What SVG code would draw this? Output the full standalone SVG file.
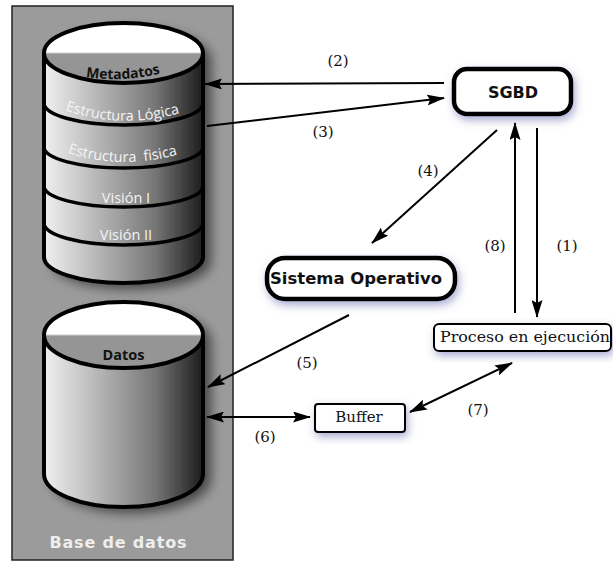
<svg xmlns="http://www.w3.org/2000/svg" width="613" height="564" viewBox="0 0 613 564">
<defs>
<style>
.lbl{font-family:"DejaVu Serif","Liberation Serif",serif;font-size:15px;fill:#111;text-anchor:middle}
.ttl{font-family:"Open Sans","DejaVu Sans",sans-serif;font-weight:bold;fill:#111;text-anchor:middle}
.ttl2{font-family:"DejaVu Sans","Open Sans",sans-serif;font-weight:bold;fill:#111;text-anchor:middle}
.band{font-family:"Open Sans","DejaVu Sans",sans-serif;font-size:14.5px;fill:#f4f4f4}
.conn{stroke:#000;stroke-width:2;fill:none}
.edge{fill:none;stroke:#000;stroke-width:4}
.bline{fill:none;stroke:#000;stroke-width:3.5}
</style>
<linearGradient id="cyl" x1="0" y1="0" x2="1" y2="0">
<stop offset="0" stop-color="#f0f0f0"/>
<stop offset="0.35" stop-color="#b4b4b4"/>
<stop offset="0.7" stop-color="#767676"/>
<stop offset="1" stop-color="#1c1c1c"/>
</linearGradient>
<filter id="cshadow" x="-20%" y="-20%" width="150%" height="140%">
<feGaussianBlur in="SourceAlpha" stdDeviation="6"/>
<feOffset dx="8" dy="6" result="b"/>
<feComponentTransfer><feFuncA type="linear" slope="0.55"/></feComponentTransfer>
<feMerge><feMergeNode/><feMergeNode in="SourceGraphic"/></feMerge>
</filter>
<filter id="nshadow" x="-20%" y="-30%" width="140%" height="170%">
<feDropShadow dx="2" dy="4" stdDeviation="4" flood-color="#5a5aa8" flood-opacity="0.5"/>
</filter>
<marker id="ah" viewBox="0 0 18 11" refX="17" refY="5.5" markerWidth="18" markerHeight="11" markerUnits="userSpaceOnUse" orient="auto-start-reverse">
<path d="M0,0 L18,5.5 L0,11 L3,5.5 Z" fill="#000"/>
</marker>
<path id="p-meta" d="M80,76 Q123,84 166,72"/>
<path id="p-log" d="M62,109 Q122,131 183,112"/>
<path id="p-fis" d="M62,151 Q122,172 183,153"/>
</defs>

<rect x="0" y="0" width="613" height="564" fill="#fff"/>

<g id="base-de-datos">
<rect x="12" y="6" width="221" height="554" fill="#9b9b9b" stroke="#222" stroke-width="1.5"/>
<text class="ttl2" x="118" y="548" font-size="16" style="fill:#eeeeee" textLength="137" lengthAdjust="spacing">Base de datos</text>
</g>

<g id="cyl-metadatos">
<g filter="url(#cshadow)">
<path d="M44,53 V257 A79.5,26 0 0 0 203,257 V53 Z" fill="url(#cyl)"/>
<ellipse cx="123.5" cy="53" rx="79.5" ry="30" fill="#959595"/>
</g>
<path d="M44,53 A79.5,30 0 0 1 203,53 Z" fill="#fff"/>
<line x1="46" y1="53" x2="201" y2="53" stroke="#cfcfcf" stroke-width="1"/>
<path class="bline" d="M44,103 A79.5,22 0 0 0 203,103"/>
<path class="bline" d="M44,147 A79.5,21 0 0 0 203,147"/>
<path class="bline" d="M44,186 A79.5,21 0 0 0 203,186"/>
<path class="bline" d="M44,223 A79.5,22 0 0 0 203,223"/>
<ellipse class="edge" cx="123.5" cy="53" rx="79.5" ry="30"/>
<path class="edge" d="M44,53 V257 A79.5,26 0 0 0 203,257 V53"/>
<text class="ttl" font-size="14"><textPath href="#p-meta" startOffset="50%">Metadatos</textPath></text>
<text class="band" text-anchor="middle"><textPath href="#p-log" startOffset="50%">Estructura Lógica</textPath></text>
<text class="band" text-anchor="middle" xml:space="preserve"><textPath href="#p-fis" startOffset="50%">Estructura  fisica</textPath></text>
<text class="band" x="126" y="203" text-anchor="middle">Visión I</text>
<text class="band" x="126" y="240" text-anchor="middle">Visión II</text>
</g>

<g id="cyl-datos">
<g filter="url(#cshadow)">
<path d="M44,335 V474 A79.5,33 0 0 0 203,474 V335 Z" fill="url(#cyl)"/>
<ellipse cx="123.5" cy="335" rx="79.5" ry="33" fill="#959595"/>
</g>
<path d="M44,335 A79.5,33 0 0 1 203,335 Z" fill="#fff"/>
<line x1="46" y1="335" x2="201" y2="335" stroke="#cfcfcf" stroke-width="1"/>
<ellipse class="edge" cx="123.5" cy="335" rx="79.5" ry="33"/>
<path class="edge" d="M44,335 V474 A79.5,33 0 0 0 203,474 V335"/>
<text class="ttl" x="123.5" y="360" font-size="14.5">Datos</text>
</g>

<g id="sgbd">
<rect x="454" y="69" width="117" height="45" rx="13" fill="#fff" stroke="#000" stroke-width="4.5" filter="url(#nshadow)"/>
<text class="ttl2" x="513" y="98" font-size="16">SGBD</text>
</g>

<g id="sistema-operativo">
<rect x="267" y="258" width="188" height="41" rx="18" fill="#fff" stroke="#000" stroke-width="4.5" filter="url(#nshadow)"/>
<text class="ttl2" x="356" y="284" font-size="16" textLength="172" lengthAdjust="spacingAndGlyphs">Sistema Operativo</text>
</g>

<g id="proceso">
<rect x="434" y="324" width="177" height="27" rx="5" fill="#fff" stroke="#000" stroke-width="2" filter="url(#nshadow)"/>
<text class="lbl" x="440" y="342" style="text-anchor:start" textLength="170" lengthAdjust="spacingAndGlyphs">Proceso en ejecución</text>
</g>

<g id="buffer">
<rect x="315" y="404" width="90" height="28" rx="3" fill="#fff" stroke="#000" stroke-width="2" filter="url(#nshadow)"/>
<text class="lbl" x="359" y="422">Buffer</text>
</g>

<g id="connectors">
<path class="conn" d="M444,83 L205,84" marker-end="url(#ah)"/>
<path class="conn" d="M207,126 L444,98" marker-end="url(#ah)"/>
<path class="conn" d="M497,130 L372,243" marker-end="url(#ah)"/>
<path class="conn" d="M515,313 L515,123" marker-end="url(#ah)"/>
<path class="conn" d="M537,128 L537,317" marker-end="url(#ah)"/>
<path class="conn" d="M349,315 L208,387" marker-end="url(#ah)"/>
<path class="conn" d="M207,417 L310,417" marker-start="url(#ah)" marker-end="url(#ah)"/>
<path class="conn" d="M410,412 L512,363" marker-start="url(#ah)" marker-end="url(#ah)"/>
<text class="lbl" x="338" y="66">(2)</text>
<text class="lbl" x="323" y="137">(3)</text>
<text class="lbl" x="428" y="176">(4)</text>
<text class="lbl" x="495" y="251">(8)</text>
<text class="lbl" x="567" y="251">(1)</text>
<text class="lbl" x="307" y="368">(5)</text>
<text class="lbl" x="265" y="442">(6)</text>
<text class="lbl" x="478" y="415">(7)</text>
</g>
</svg>
